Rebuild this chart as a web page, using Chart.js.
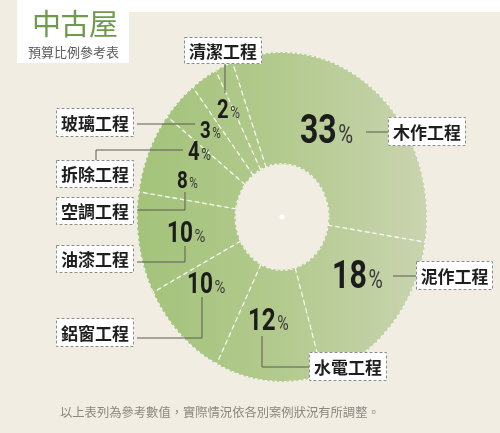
<!DOCTYPE html>
<html>
<head>
<meta charset="utf-8">
<script src="https://cdn.jsdelivr.net/npm/chart.js@4.4.1/dist/chart.umd.min.js"></script>
<style>
body { margin: 0; background: #f2ede3; }
#wrap { position: relative; width: 500px; height: 433px; overflow: hidden; background: #f2ede3; font-family: 'Noto Sans CJK TC', sans-serif; }
.strip { position: absolute; left: 18px; top: 0; width: 482px; height: 12px; background: #fff; }
.tbox { position: absolute; left: 17px; top: 0; width: 112px; height: 63px; background: #fff; }
#title { position: absolute; left: 32px; top: 2px; font-size: 29px; line-height: 40px; color: #6e9a4c; letter-spacing: -0.5px; }
#sub { position: absolute; left: 28px; top: 44px; font-size: 13px; line-height: 16px; color: #5c5c5c; }
#note { position: absolute; left: 60px; top: 404px; font-size: 12.3px; line-height: 16px; color: #8a8780; white-space: nowrap; }
canvas { position: absolute; left: 0; top: 0; }
</style>
</head>
<body>
<div id="wrap">
  <div class="strip"></div>
  <div class="tbox"></div>
  <canvas id="pie" width="500" height="433"></canvas>
  <div id="title">中古屋</div>
  <div id="sub">預算比例參考表</div>
  <div id="note">以上表列為參考數值，實際情況依各別案例狀況有所調整。</div>
</div>
<script>
// budget share per work item (clockwise from top)
const categories = ['木作工程', '泥作工程', '水電工程', '鋁窗工程', '油漆工程', '空調工程', '拆除工程', '玻璃工程', '清潔工程'];
const shares = [33, 18, 12, 10, 10, 8, 4, 3, 2];

// annotation layout: label boxes [x, y, w, h], leader lines, number text [left, baseline, size]
const boxes = [
    [388, 117, 78, 29], [416, 261, 77, 29], [309, 352, 78, 29],
    [56, 318, 78, 29], [56, 245, 78, 28], [56, 197, 78, 28],
    [56, 160, 78, 28], [56, 108, 78, 29], [184, 37, 78, 27]
];
const leaders = [
    [[366, 132], [388, 132]],
    [[393, 276], [416, 276]],
    [[262, 336], [262, 367], [309, 367]],
    [[137, 338], [202, 338], [202, 297]],
    [[137, 262], [185, 262], [185, 246]],
    [[137, 210], [185, 210], [185, 192]],
    [[96, 160], [96, 150], [183, 150]],
    [[137, 124], [195, 124]],
    [[225, 64], [225, 93]]
];
const numbers = [
    [300, 143, 41], [332, 288, 39], [248, 330, 31],
    [187, 293, 29], [167, 242, 29], [177, 188, 24],
    [188, 160, 26], [200, 138, 24], [217, 118, 26]
];

const squash = 0.88;    // the donut is a bit narrower than tall
const narrow = 0.78;    // condensed look for the numbers
const numFont = "Roboto, 'Liberation Sans', sans-serif";

const ellipsePlugin = {
    id: 'ellipse',
    beforeDatasetsDraw(chart) {
        const cx = chart.getDatasetMeta(0).data[0].x;
        const c = chart.ctx;
        c.save();
        c.translate(cx, 0);
        c.scale(squash, 1);
        c.translate(-cx, 0);
    },
    afterDatasetsDraw(chart) {
        const c = chart.ctx;
        const arcs = chart.getDatasetMeta(0).data;
        const a0 = arcs[0];
        c.strokeStyle = 'rgba(255,255,255,0.9)';
        // dashed separators
        c.lineWidth = 1.4;
        c.setLineDash([5, 3.5]);
        arcs.forEach(a => {
            const cos = Math.cos(a.startAngle), sin = Math.sin(a.startAngle);
            c.beginPath();
            c.moveTo(a.x + cos * a.innerRadius, a.y + sin * a.innerRadius);
            c.lineTo(a.x + cos * a.outerRadius, a.y + sin * a.outerRadius);
            c.stroke();
        });
        // dashed rims
        c.lineWidth = 1.1;
        c.setLineDash([3, 2.5]);
        c.beginPath();
        c.arc(a0.x, a0.y, a0.outerRadius - 0.5, 0, Math.PI * 2);
        c.stroke();
        c.beginPath();
        c.arc(a0.x, a0.y, a0.innerRadius + 0.5, 0, Math.PI * 2);
        c.stroke();
        c.setLineDash([]);
        c.restore();
    }
};

const labelPlugin = {
    id: 'labels',
    afterDraw(chart) {
        const c = chart.ctx;
        const arc = chart.getDatasetMeta(0).data[0];
        c.save();
        // centre dot
        c.fillStyle = '#fff';
        c.beginPath();
        c.arc(arc.x, arc.y, 2.5, 0, Math.PI * 2);
        c.fill();

        // leader lines
        c.strokeStyle = '#5a5a55';
        c.lineWidth = 1;
        leaders.forEach(pts => {
            c.beginPath();
            pts.forEach((p, i) => i ? c.lineTo(p[0], p[1]) : c.moveTo(p[0], p[1]));
            c.stroke();
        });

        // category boxes
        categories.forEach((name, i) => {
            const [x, y, w, h] = boxes[i];
            c.fillStyle = '#fff';
            c.fillRect(x, y, w, h);
            c.setLineDash([3, 2]);
            c.strokeStyle = '#8c8c88';
            c.strokeRect(x + 0.5, y + 0.5, w - 1, h - 1);
            c.setLineDash([]);
            c.fillStyle = '#1e1e1e';
            c.font = "bold 17px 'Noto Sans CJK TC', sans-serif";
            c.textAlign = 'center';
            c.textBaseline = 'middle';
            c.fillText(name, x + w / 2, y + h / 2 + 1);
        });

        // percentages, drawn narrowed
        c.textAlign = 'left';
        c.textBaseline = 'alphabetic';
        shares.forEach((v, i) => {
            const [x, y, s] = numbers[i];
            c.save();
            c.translate(x, y);
            c.scale(narrow, 1);
            c.font = 'bold ' + s + 'px ' + numFont;
            c.fillStyle = '#1c1c1c';
            const t = String(v);
            c.fillText(t, 0, 0);
            const w = c.measureText(t).width;
            c.font = Math.round(s * 0.64) + 'px ' + numFont;
            c.fillStyle = '#3a3a3a';
            c.fillText('%', w + 2, 0);
            c.restore();
        });
        c.restore();
    }
};

new Chart(document.getElementById('pie'), {
    type: 'doughnut',
    data: {
        labels: categories,
        datasets: [{
            data: shares,
            backgroundColor(ctx) {
                const a = ctx.chart.chartArea;
                if (!a) return '#b3ca8f';
                const g = ctx.chart.ctx.createLinearGradient(a.left, 0, a.right, 0);
                g.addColorStop(0, '#a3c37a');
                g.addColorStop(0.5, '#b3ca8e');
                g.addColorStop(1, '#cad4b0');
                return g;
            },
            borderWidth: 0
        }]
    },
    options: {
        responsive: false,
        animation: false,
        rotation: -20,
        cutout: '32%',
        layout: { padding: { top: 52, bottom: 51, left: 117, right: 53 } },
        plugins: {
            legend: { display: false },
            tooltip: { enabled: false }
        }
    },
    plugins: [ellipsePlugin, labelPlugin]
});
</script>
</body>
</html>
